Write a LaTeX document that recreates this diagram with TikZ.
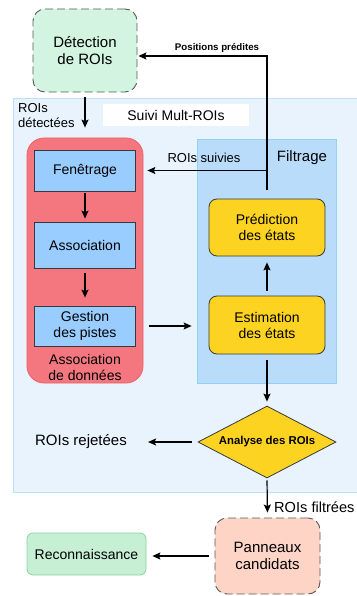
\documentclass[tikz,border=0pt]{standalone}
\usepackage{fontspec}
\setmainfont{Liberation Sans}
\usetikzlibrary{positioning,arrows.meta,shapes.geometric}

\definecolor{detgreen}{HTML}{D3F4E0}
\definecolor{recgreen}{HTML}{C6EFD4}
\definecolor{recedge}{HTML}{86D69E}
\definecolor{suivifill}{HTML}{E8F3FE}
\definecolor{suiviedge}{HTML}{BCDFFA}
\definecolor{assocred}{HTML}{F4777F}
\definecolor{assocedge}{HTML}{EC3A3A}
\definecolor{filtfill}{HTML}{BADCFB}
\definecolor{filtedge}{HTML}{8FD2F5}
\definecolor{boxblue}{HTML}{99CCFF}
\definecolor{boxedge}{HTML}{36393D}
\definecolor{estyellow}{HTML}{FDD322}
\definecolor{panfill}{HTML}{FDD4C6}

\begin{document}
\begin{tikzpicture}[
  x=1pt, y=-1pt,
  every node/.style={font=\fontsize{14}{16}\selectfont, align=center, inner sep=0pt},
  dashbox/.style={rectangle, draw=gray!70!black, dash pattern=on 8pt off 4pt, rounded corners=12pt, line width=0.9pt, font=\fontsize{15}{17}\selectfont},
  bluebox/.style={rectangle, draw=boxedge, fill=boxblue, line width=0.8pt, minimum width=101pt},
  yelbox/.style={rectangle, draw=boxedge, fill=estyellow, rounded corners=8pt, line width=0.8pt, minimum width=116pt},
  arr/.style={-{Stealth[length=8pt,width=7pt,inset=1.5pt]}, line width=1.2pt}
]
\useasboundingbox (0,0) rectangle (356,596);

% Containers
\node[rectangle, draw=suiviedge, fill=suivifill, line width=0.8pt, minimum width=350pt, minimum height=394pt] (suivi) at (188,295) {};
\node[fill=white, minimum width=146pt, minimum height=22pt] (titre) at (176,115) {Suivi Mult-ROIs};
\node[rectangle, draw=assocred!60!assocedge, fill=assocred, rounded corners=17pt, line width=0.8pt, minimum width=116pt, minimum height=245pt] (assoc) at (85,260.5) {};
\node[rectangle, draw=filtedge, fill=filtfill, line width=0.8pt, minimum width=139pt, minimum height=244pt] (filt) at (266.5,261) {};

% Boxes
\node[dashbox, fill=detgreen, minimum width=104pt, minimum height=83pt] (detect) at (85,50.5) {Détection\\de ROIs};
\node[bluebox, minimum height=41pt] (fen) at (85,170.5) {Fenêtrage};
\node[bluebox, minimum height=46pt] (asso) at (85,245) {Association};
\node[bluebox, minimum height=40pt] (gest) at (85,326) {Gestion\\des pistes};
\node[yelbox, minimum height=57pt] (pred) at (267,227.5) {Prédiction\\des états};
\node[yelbox, minimum height=58pt] (estim) at (267,325) {Estimation\\des états};
\node[diamond, aspect=2, draw=boxedge, fill=estyellow, line width=0.8pt, minimum width=138pt, minimum height=72pt, font=\bfseries\fontsize{11.4}{13}\selectfont] (analyse) at (267,442) {Analyse des ROIs};
\node[dashbox, fill=panfill, minimum width=105pt, minimum height=76pt] (pan) at (267.5,556) {Panneaux\\candidats};
\node[rectangle, draw=recedge, fill=recgreen, rounded corners=6pt, line width=0.8pt, minimum width=119pt, minimum height=42pt] (recon) at (86.5,554) {Reconnaissance};

% Labels
\node[align=left, anchor=west, font=\fontsize{13}{15}\selectfont] (detlbl) at (18,116) {ROIs\\détectées};
\node[font=\fontsize{13}{15}\selectfont] (suivlbl) at (204,158) {ROIs suivies};
\node[font=\fontsize{15}{17}\selectfont] (filtlbl) at (302,158) {Filtrage};
\node[font=\fontsize{14}{16}\selectfont] (assoclbl) at (85,367) {Association\\de données};
\node[font=\bfseries\fontsize{9.7}{11}\selectfont] (poslbl) at (217,48) {Positions prédites};
\node[font=\fontsize{15}{17}\selectfont] (rejet) at (81,442) {ROIs rejetées};
\node[anchor=west, font=\fontsize{14.6}{16}\selectfont] (filtres) at (274,507) {ROIs filtrées};

% Connectors
\draw[arr, shorten <=5pt, shorten >=10pt] (detect.south) -- (assoc.north);
\draw[arr, shorten <=2pt, shorten >=3pt] (fen) -- (asso);
\draw[arr, shorten <=5pt, shorten >=8pt] (asso) -- (gest);
\draw[arr, shorten <=6pt, shorten >=5pt] (gest.east -| assoc.east) -- (gest.east -| filt.west);
\draw[arr, shorten <=5pt, shorten >=6pt] (estim) -- (pred);
\draw[arr, shorten <=9pt, shorten >=1pt] (pred.north) |- ([yshift=-5.5pt]detect.east);
\draw[arr, shorten >=4pt] (pred.north |- fen.east) -- (fen.east -| assoc.east);
\draw[arr, shorten <=6pt, shorten >=4pt] (estim) -- (analyse);
\draw[arr, shorten <=6pt, shorten >=21pt] (analyse.west) -- (rejet);
\draw[arr, shorten <=2pt, shorten >=5pt] (analyse.south) -- (pan.north);
\draw[arr, shorten <=6pt, shorten >=6pt] (pan.west) -- (pan.west -| recon.east);
\end{tikzpicture}
\end{document}
